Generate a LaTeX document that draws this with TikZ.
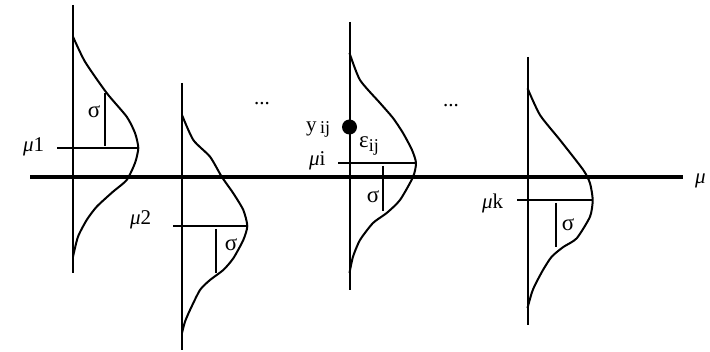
\documentclass[tikz,border=0pt]{standalone}
\usepackage{fontspec}
\setmainfont{Liberation Serif}
\begin{document}
\begin{tikzpicture}[x=1pt,y=-1pt,
  thinln/.style={line width=2pt,line cap=butt},
  curve/.style={line width=2pt,line join=round},
  lab/.style={font=\fontsize{21}{21}\selectfont,inner sep=0pt,anchor=base west},
  glab/.style={font=\fontsize{23}{23}\selectfont,inner sep=0pt}]
\useasboundingbox (0,0) rectangle (710,352);
% main axis
\coordinate (axL) at (30,177);
\coordinate (axR) at (683,177);
\draw[line width=4.5pt] (axL) -- (axR);
\node[lab] (mu) at (695,184) {\itshape μ};
% ---- curve 1
\coordinate (a1t) at (73,5); \coordinate (a1b) at (73,273);
\draw[thinln] (a1t) -- (a1b);
\draw[curve] plot[smooth,tension=0.4] coordinates {(73,36.7)(85,61.7)(106.7,93)(126.7,116.7)(135,133)(138.3,148)(135,163)(126.7,180)(113,191.7)(96.7,206.7)(86.7,220)(78,236.7)(73,256.7)};
\coordinate (m1l) at (57,148); \coordinate (m1r) at (138,148);
\draw[thinln] (m1l) -- (m1r);
\coordinate (s1t) at (105,93); \coordinate (s1b) at (105,146);
\draw[thinln] (s1t) -- (s1b);
\node[lab] (mu1) at (23,152) {\itshape μ\upshape 1};
\node[glab] (sig1) at (94,112) {σ};
% ---- curve 2
\coordinate (a2t) at (182,83); \coordinate (a2b) at (182,350);
\draw[thinln] (a2t) -- (a2b);
\draw[curve] plot[smooth,tension=0.4] coordinates {(182,115)(193.3,140)(210,156.7)(221.7,176.7)(233.3,193.3)(243.3,210)(247.3,226)(243.3,240)(233.3,258.3)(223.3,270)(210,280)(200,290)(190,310)(185,321.7)(182,333)};
\coordinate (m2l) at (173,226); \coordinate (m2r) at (247,226);
\draw[thinln] (m2l) -- (m2r);
\coordinate (s2t) at (216,229); \coordinate (s2b) at (216,273);
\draw[thinln] (s2t) -- (s2b);
\node[lab] (mu2) at (130,225) {\itshape μ\upshape 2};
\node[glab] (sig2) at (231,245) {σ};
% dots
\node[lab,anchor=base] (dots1) at (262,105) {...};
\node[lab,anchor=base] (dots2) at (451,107) {...};
% ---- curve 3
\coordinate (a3t) at (349.5,22); \coordinate (a3b) at (349.5,290);
\draw[thinln] (a3t) -- (a3b);
\draw[curve] plot[smooth,tension=0.4] coordinates {(349.5,53)(360,80)(380,103)(393,118)(403,133)(412,150)(416,163)(413,177)(400,200)(386.7,213)(373,223)(360,240)(353,256.7)(349.5,273)};
\coordinate (mil) at (338,163); \coordinate (mir) at (415,163);
\draw[thinln] (mil) -- (mir);
\coordinate (s3t) at (383,166); \coordinate (s3b) at (383,211);
\draw[thinln] (s3t) -- (s3b);
\fill (349.5,127) circle (7.5);
\node[lab] (mui) at (309,166) {\itshape μ\upshape i};
\node[lab] (yij) at (306,132) {y\,\raisebox{-2pt}{\fontsize{18}{18}\selectfont ij}};
\node[lab] (eij) at (359,148) {{\fontsize{23}{23}\selectfont ε}\raisebox{-4pt}{\fontsize{18}{18}\selectfont ij}};
\node[glab] (sig3) at (373,197) {σ};
% ---- curve 4
\coordinate (a4t) at (527.5,57); \coordinate (a4b) at (527.5,325);
\draw[thinln] (a4t) -- (a4b);
\draw[curve] plot[smooth,tension=0.4] coordinates {(527.5,88.3)(540,115)(560,140)(583.3,170)(590,183.3)(592.7,200)(590,216.7)(576.7,238.3)(563.3,247)(551.7,256.7)(543,270)(535,285)(531.7,293)(527.5,308)};
\coordinate (mkl) at (517,200); \coordinate (mkr) at (593,200);
\draw[thinln] (mkl) -- (mkr);
\coordinate (s4t) at (556,203); \coordinate (s4b) at (556,247);
\draw[thinln] (s4t) -- (s4b);
\node[lab] (muk) at (482,209) {\itshape μ\upshape k};
\node[glab] (sig4) at (568,225) {σ};
\end{tikzpicture}
\end{document}
